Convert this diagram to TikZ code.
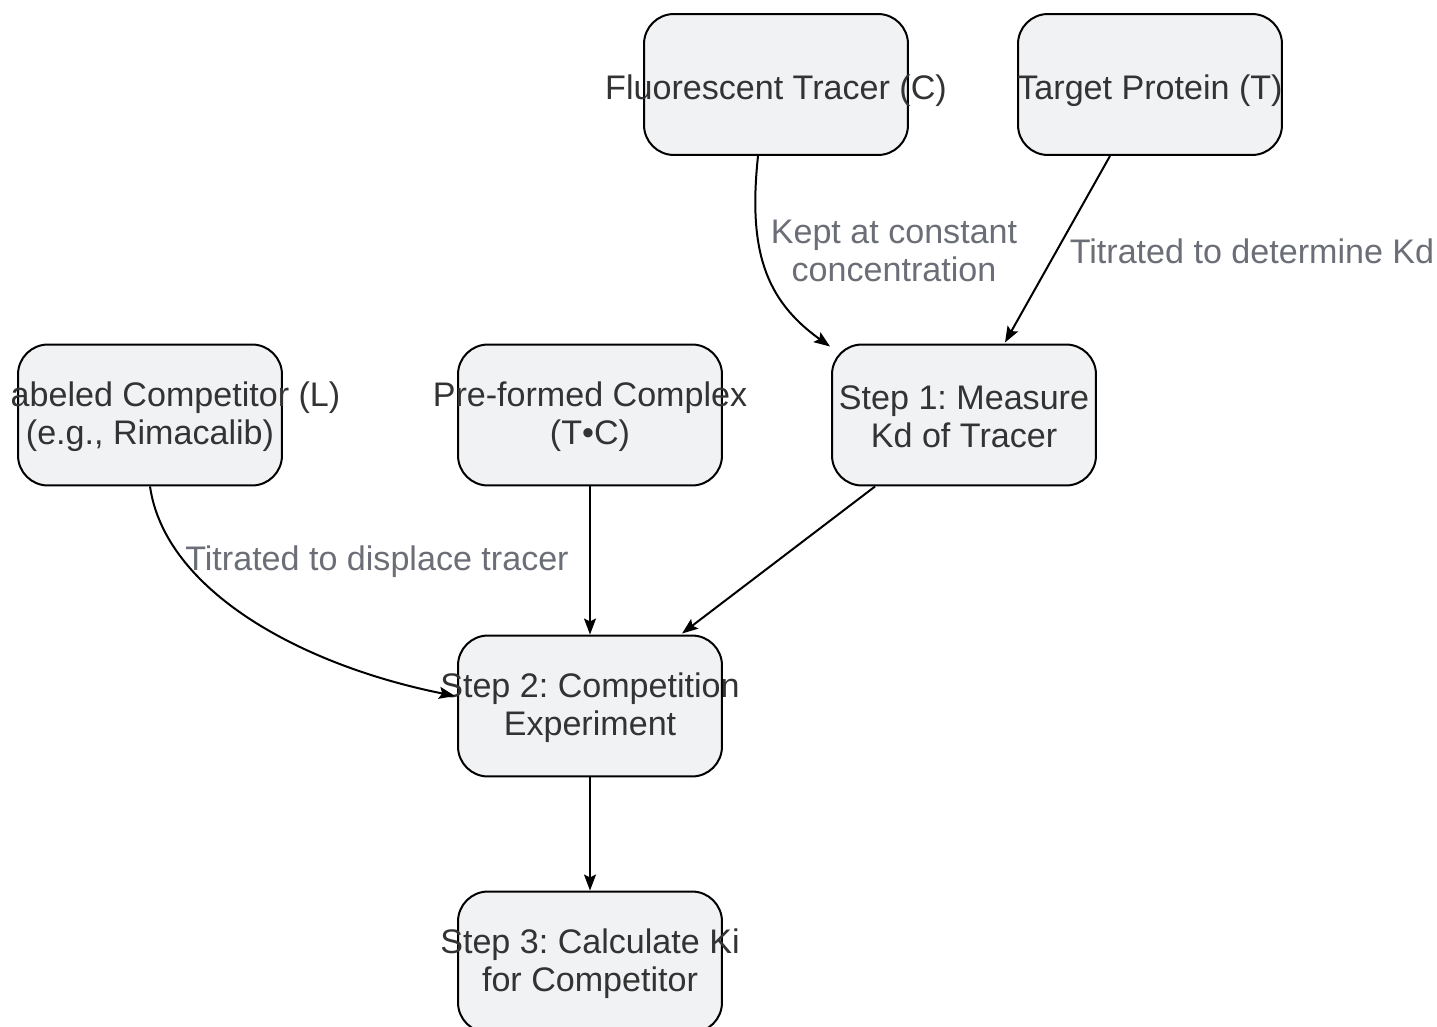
\documentclass[tikz,border=0pt]{standalone}
\usepackage{fontspec}
\setmainfont{Liberation Sans}
\usepackage{tikz}
\usetikzlibrary{arrows.meta, positioning, calc}
\definecolor{boxfill}{RGB}{241, 242, 244}
\definecolor{textdark}{RGB}{51, 51, 51}
\definecolor{labelgray}{RGB}{107, 110, 118}
\frenchspacing

\begin{document}
\begin{tikzpicture}[x=0.02cm, y=-0.02cm,
    stepbox/.style={draw=black, fill=boxfill, rounded corners=0.6cm, line width=0.04cm,
      minimum width=5.28cm, minimum height=2.82cm, inner sep=0pt},
    steptext/.style={text=textdark, align=center, inner sep=0pt, yshift=-0.04cm,
      font=\fontsize{19.4}{21.6}\selectfont},
    onetext/.style={steptext, yshift=-0.08cm},
    edgetext/.style={text=labelgray, align=center, inner sep=0pt,
      font=\fontsize{19.4}{21.6}\selectfont},
    link/.style={draw=black, line width=0.04cm,
      -{Stealth[length=0.32cm, width=0.24cm, inset=0.06cm]}}]
  \useasboundingbox (0,0) rectangle (1437,1027);
  \clip (10,0) rectangle (1437,1027);

  % boxes
  \node[stepbox] (tracer) at (776,84.5) {};
  \node[stepbox] (target) at (1150,84.5) {};
  \node[stepbox] (competitor) at (150,415) {};
  \node[stepbox] (complex) at (590,415) {};
  \node[stepbox] (stepone) at (964,415) {};
  \node[stepbox] (steptwo) at (590,706) {};
  \node[stepbox] (stepthree) at (590,962) {};

  % box texts (allowed to run over the box edges)
  \node[onetext] (tracer-t) at (tracer) {Fluorescent Tracer (C)};
  \node[onetext] (target-t) at (target) {Target Protein (T)};
  \node[steptext] (competitor-t) at (competitor) {Unlabeled Competitor (L)\\(e.g., Rimacalib)};
  \node[steptext] (complex-t) at (complex) {Pre-formed Complex\\(T\textbullet C)};
  \node[steptext] (stepone-t) at (stepone) {Step 1: Measure\\Kd of Tracer};
  \node[steptext] (steptwo-t) at (steptwo) {Step 2: Competition\\Experiment};
  \node[steptext] (stepthree-t) at (stepthree) {Step 3: Calculate Ki\\for Competitor};

  % connectors
  \draw[link] ($(tracer.south)+(-18,0)$) .. controls (748,250) and (765,300) .. ($(stepone.north west)+(-1,3)$);
  \draw[link] ($(target.south)+(-40,0)$) -- ($(stepone.north)+(41,-1)$);
  \draw[link] (competitor.south) .. controls (165,590) and (300,665) .. ($(steptwo.west)+(-2,-10)$);
  \draw[link] (complex.south) -- (steptwo.north);
  \draw[link] ($(stepone.south)+(-89,0)$) -- ($(steptwo.north)+(92,-1)$);
  \draw[link] (steptwo.south) -- (stepthree.north);

  % connector labels
  \node[edgetext] (kept-l) at (894,251) {Kept at constant\\concentration};
  \node[edgetext] (kd-l) at (1252,251) {Titrated to determine Kd};
  \node[edgetext] (displace-l) at (377,562) {Titrated to displace tracer};
\end{tikzpicture}
\end{document}
